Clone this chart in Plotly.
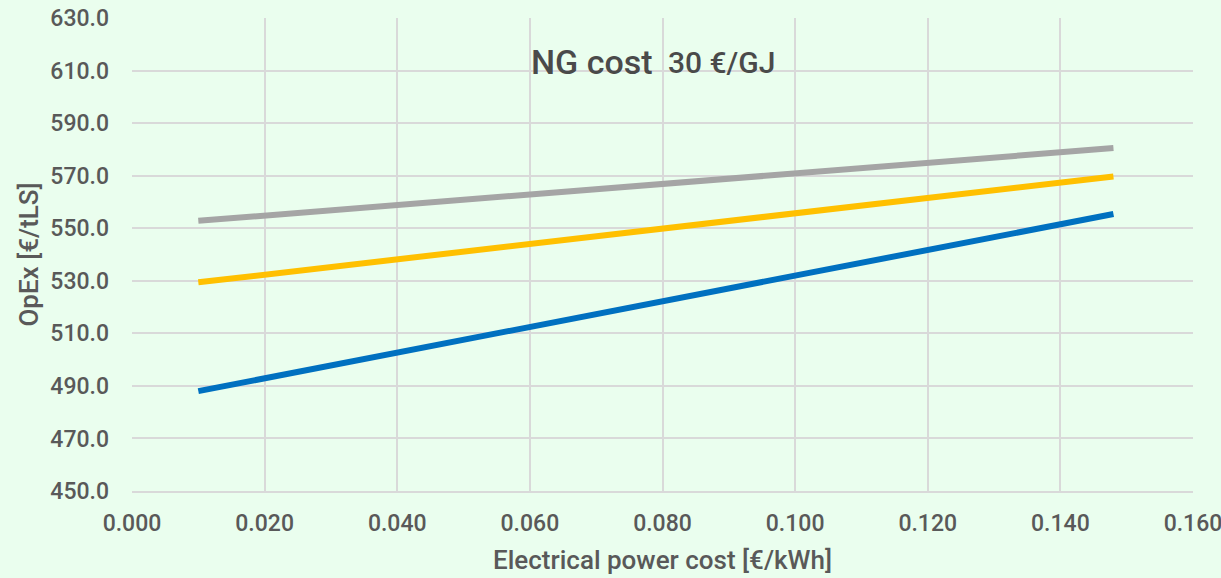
import plotly.graph_objects as go

x_vals = [0.010, 0.148]
grey_vals = [552.8, 580.5]
yellow_vals = [529.4, 569.7]
blue_vals = [488.0, 555.4]

series_names = ["Series A", "Series B", "Series C"]
series_vals = [grey_vals, yellow_vals, blue_vals]
colors = ["#A5A5A5", "#FFC000", "#0070C0"]

bg = "#EAFEEE"
font_fam = "Roboto, 'Noto Sans', sans-serif"

fig = go.Figure()
for name, vals, c in zip(series_names, series_vals, colors):
    fig.add_trace(go.Scatter(x=x_vals, y=vals, mode="lines", name=name,
                             line=dict(color=c, width=6), showlegend=False))

px_to_x = lambda p: (p - 132) / 1061 * 0.16
fig.update_layout(
    width=1221, height=578,
    paper_bgcolor=bg, plot_bgcolor=bg,
    margin=dict(l=132, r=28, t=18, b=87, autoexpand=False),
    font=dict(family=font_fam, color="#595959", weight=500),
    annotations=[
        dict(text="NG cost", x=px_to_x(529), y=613.3, xref="x", yref="y", showarrow=False,
             xanchor="left", yanchor="middle", font=dict(color="#4A4A4A", size=34, weight=500)),
        dict(text="30 €/GJ", x=px_to_x(666), y=613.0, xref="x", yref="y", showarrow=False,
             xanchor="left", yanchor="middle", font=dict(color="#4A4A4A", size=30, weight=500)),
    ],
)
fig.update_xaxes(range=[0, 0.16], dtick=0.02, tick0=0, tickformat=".3f", automargin=False,
                 showgrid=True, gridcolor="#D9D9D9", gridwidth=2,
                 showline=True, linecolor="#D9D9D9", linewidth=2, mirror=False,
                 zeroline=False, ticks="", tickfont=dict(size=23), ticklabelstandoff=10,
                 ticklabeloverflow="allow",
                 title=dict(text="Electrical power cost [€/kWh]", font=dict(size=26), standoff=15))
fig.update_yaxes(range=[450, 630], dtick=20, tick0=450, tickformat=".1f", automargin=False,
                 showgrid=True, gridcolor="#D9D9D9", gridwidth=2,
                 zeroline=False, ticks="", tickfont=dict(size=23), ticklabelstandoff=22,
                 ticklabeloverflow="allow",
                 title=dict(text="OpEx [€/tLS]", font=dict(size=26), standoff=4))
fig.write_html("out.html", config={"displayModeBar": False},
               post_script="document.body.style.margin='0';document.body.style.background='%s';" % bg)
